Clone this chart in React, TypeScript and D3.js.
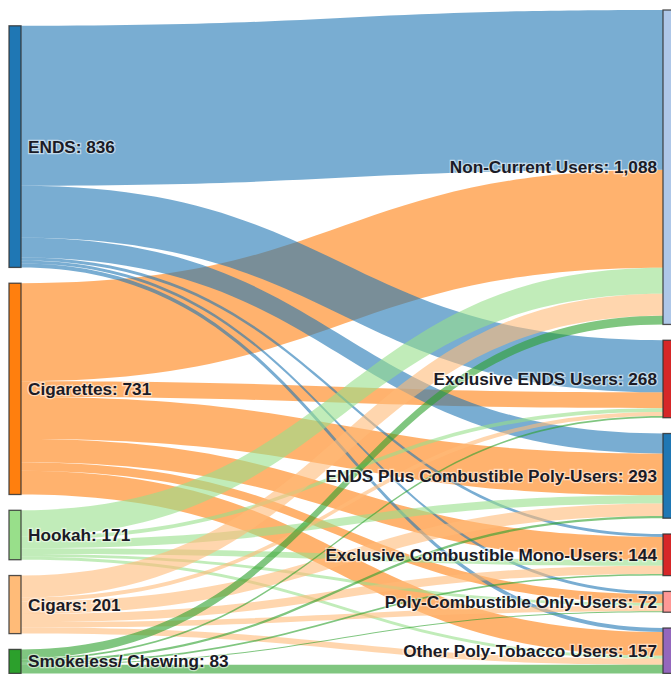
import React from "react";
import * as d3 from "d3";

// ---- data ----
const sources = ["ENDS", "Cigarettes", "Hookah", "Cigars", "Smokeless/ Chewing"];
const targets = [
  "Non-Current Users",
  "Exclusive ENDS Users",
  "ENDS Plus Combustible Poly-Users",
  "Exclusive Combustible Mono-Users",
  "Poly-Combustible Only-Users",
  "Other Poly-Tobacco Users",
];
// flows[source][target]
const fromENDS = [553, 180, 69, 10, 10, 14];
const fromCigarettes = [339, 55, 145, 80, 30, 82];
const fromHookah = [90, 13, 28, 20, 10, 10];
const fromCigars = [76, 14, 43, 28, 19, 21];
const fromSmokeless = [30, 6, 8, 6, 3, 30];
const flows = [fromENDS, fromCigarettes, fromHookah, fromCigars, fromSmokeless];

// ---- styles ----
const sourceColors = ["#1f77b4", "#ff7f0e", "#98df8a", "#ffbb78", "#2ca02c"];
const targetColors = ["#aec7e8", "#d62728", "#1f77b4", "#d62728", "#ff9896", "#9467bd"];
const drawOrder = [1, 0, 2, 3, 4];

const W = 671;
const H = 674;
const nodeWidth = 12;
const leftX = 9;
const rightX = 663;
const extentTop = 10;
const extentBottom = 673.4;
const pad = 15.8;

type NodeT = { name: string; value: number; y0: number; y1: number; x0: number; x1: number; color: string };

function layoutColumn(names: string[], values: number[], x0: number, colors: string[], ky: number): NodeT[] {
  const n = names.length;
  const total = d3.sum(values) * ky + (n - 1) * pad;
  let y = extentBottom - total;
  return names.map((name, i) => {
    const node = { name, value: values[i], y0: y, y1: y + values[i] * ky, x0, x1: x0 + nodeWidth, color: colors[i] };
    y = node.y1 + pad;
    return node;
  });
}

function linkPath(x0: number, x1: number, ya: number, yb: number, w: number) {
  const p = d3.path();
  const xm = (x0 + x1) / 2;
  p.moveTo(x0, ya);
  p.bezierCurveTo(xm, ya, xm, yb, x1, yb);
  p.lineTo(x1, yb + w);
  p.bezierCurveTo(xm, yb + w, xm, ya + w, x0, ya + w);
  p.closePath();
  return p.toString();
}

export default function App() {
  const srcValues = flows.map((r) => d3.sum(r));
  const tgtValues = targets.map((_, j) => d3.sum(flows, (r) => r[j]));
  const kyCandidates = [
    (extentBottom - extentTop - (sources.length - 1) * pad) / d3.sum(srcValues),
    (extentBottom - extentTop - (targets.length - 1) * pad) / d3.sum(tgtValues),
  ];
  const ky = d3.min(kyCandidates) as number;
  const srcNodes = layoutColumn(sources, srcValues, leftX, sourceColors, ky);
  const tgtNodes = layoutColumn(targets, tgtValues, rightX, targetColors, ky);

  // link offsets
  const links: { s: number; t: number; d: string; color: string }[] = [];
  const srcOffset = srcNodes.map((n) => n.y0);
  const tgtOffset = tgtNodes.map((n) => n.y0);
  const linkGeom: Record<string, { ya: number; yb: number; w: number }> = {};
  // source side: sorted by target order; target side: sorted by source order
  sources.forEach((_, i) => {
    targets.forEach((_, j) => {
      const w = flows[i][j] * ky;
      linkGeom[i + "-" + j] = { ya: srcOffset[i], yb: 0, w };
      srcOffset[i] += w;
    });
  });
  targets.forEach((_, j) => {
    sources.forEach((_, i) => {
      const g = linkGeom[i + "-" + j];
      g.yb = tgtOffset[j];
      tgtOffset[j] += g.w;
    });
  });
  drawOrder.forEach((i) => {
    targets.forEach((_, j) => {
      const g = linkGeom[i + "-" + j];
      if (g.w <= 0) return;
      links.push({
        s: i,
        t: j,
        d: linkPath(srcNodes[i].x1, tgtNodes[j].x0, g.ya, g.yb, g.w),
        color: sourceColors[i],
      });
    });
  });

  const fmt = d3.format(",");
  const labelStyle: React.CSSProperties = {
    fontFamily: "'Liberation Sans', Arial, sans-serif",
    fontWeight: 700,
    fontSize: "17.2px",
    fill: "#1b1b26",
    stroke: "#ffffff",
    strokeWidth: 2.5,
    strokeOpacity: 0.55,
    paintOrder: "stroke",
  } as React.CSSProperties;

  return (
    <svg
      width={W}
      height={H}
      style={{ position: "absolute", left: 0, top: 0, background: "#ffffff" }}
    >
      <g>
        {links.map((l, k) => (
          <path key={k} d={l.d} fill={l.color} fillOpacity={0.6} stroke="none" />
        ))}
      </g>
      <g>
        {[...srcNodes, ...tgtNodes].map((n, k) => (
          <rect
            key={k}
            x={n.x0}
            y={n.y0}
            width={n.x1 - n.x0}
            height={n.y1 - n.y0}
            fill={n.color}
            stroke="#333"
            strokeOpacity={0.85}
            strokeWidth={1.3}
          />
        ))}
      </g>
      <g>
        {srcNodes.map((n, k) => (
          <text key={k} x={n.x1 + 7} y={(n.y0 + n.y1) / 2} dy="0.35em" style={labelStyle}>
            {n.name + ": " + fmt(n.value)}
          </text>
        ))}
        {tgtNodes.map((n, k) => (
          <text
            key={k}
            x={n.x0 - 6}
            y={(n.y0 + n.y1) / 2}
            dy="0.35em"
            textAnchor="end"
            style={labelStyle}
          >
            {n.name + ": " + fmt(n.value)}
          </text>
        ))}
      </g>
    </svg>
  );
}
